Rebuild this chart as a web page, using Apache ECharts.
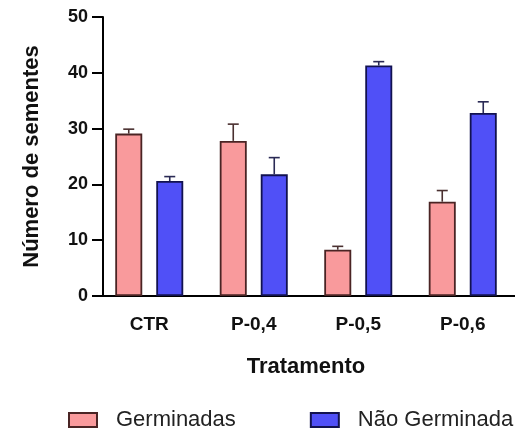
<!DOCTYPE html>
<html>
<head>
<meta charset="utf-8">
<script src="https://cdn.jsdelivr.net/npm/echarts@6/dist/echarts.min.js"></script>
<style>
	html, body { margin:0; padding:0; background:#fff; }
	#main { width:515px; height:432px; }
</style>
</head>
<body>
<div id="main"></div>
<script>
// dados
var categorias = ['CTR', 'P-0,4', 'P-0,5', 'P-0,6'];
var germinadas = [29.1, 27.8, 8.3, 16.9];
var germinadasErro = [0.8, 3.0, 0.6, 2.0];
var naoGerminadas = [20.6, 21.8, 41.3, 32.8];
var naoGerminadasErro = [0.8, 3.0, 0.7, 2.0];
var yTicks = [0, 10, 20, 30, 40, 50];

var barW = 27;
var barGapPx = 14;
var fonte = 'Liberation Sans, Arial, sans-serif';

//barra de erro (só a parte de cima)
function errorSeries(nome, valores, erros, lado, cor)
{
	var dados = [];
	for (var i = 0; i < valores.length; i++) {
		dados.push([i, valores[i], erros[i]]);
	}
	return {
		name: nome,
		type: 'custom',
		z: 3,
		silent: true,
		data: dados,
		renderItem: function (params, api) {
			var base = api.coord([api.value(0), api.value(1)]);
			var topo = api.coord([api.value(0), api.value(1) + api.value(2)]);
			var cx = base[0] + lado * (barW + barGapPx) / 2;
			var estilo = { stroke: cor, lineWidth: 1.6 };
			return {
				type: 'group',
				children: [
					{ type: 'line', shape: { x1: cx, y1: base[1], x2: cx, y2: topo[1] }, style: estilo },
					{ type: 'line', shape: { x1: cx - 5.5, y1: topo[1], x2: cx + 5.5, y2: topo[1] }, style: estilo }
				]
			};
		}
	};
}

var myChart = echarts.init(document.getElementById('main'));

var option = {
	backgroundColor: '#fff',
	animation: false,
	textStyle: { fontFamily: fonte },
	grid: {
		left: 97,
		top: 17,
		width: 431,
		height: 279
	},
	legend: {
		data: ['Germinadas', 'Não Germinada'],
		left: 68,
		top: 409,
		padding: 0,
		icon: 'rect',
		itemWidth: 28,
		itemHeight: 14,
		itemGap: 74,
		textStyle: {
			fontSize: 22,
			color: '#222',
			fontFamily: fonte,
			padding: [0, 0, 0, 14]
		}
	},
	xAxis: {
		type: 'category',
		data: categorias,
		name: 'Tratamento',
		nameLocation: 'middle',
		nameGap: 60,
		nameTextStyle: { fontSize: 22, fontWeight: 'bold', color: '#111' },
		axisLine: { lineStyle: { color: '#000', width: 2 } },
		axisTick: { alignWithLabel: true, length: 9, lineStyle: { width: 2, color: '#000' } },
		axisLabel: { fontSize: 19, fontWeight: 'bold', color: '#111', margin: 19 },
		splitLine: { show: false }
	},
	yAxis: {
		type: 'value',
		min: 0,
		max: 50,
		interval: 10,
		offset: -6,
		name: 'Número de sementes',
		nameLocation: 'middle',
		nameGap: 60,
		nameTextStyle: { fontSize: 22, fontWeight: 'bold', color: '#111' },
		axisLine: { show: true, lineStyle: { color: '#000', width: 2 } },
		axisTick: { show: true, length: 11, lineStyle: { width: 2, color: '#000' } },
		axisLabel: {
			fontSize: 18, fontWeight: 'bold', color: '#111', margin: 15,
			formatter: function (v) { return yTicks.indexOf(v) >= 0 ? String(v) : ''; }
		},
		splitLine: { show: false }
	},
	series: [
		{
			name: 'Germinadas',
			type: 'bar',
			barWidth: barW,
			barGap: (barGapPx / barW * 100) + '%',
			data: germinadas,
			itemStyle: { color: '#f99a9c', borderColor: '#4a2424', borderWidth: 1.8 }
		},
		{
			name: 'Não Germinada',
			type: 'bar',
			barWidth: barW,
			data: naoGerminadas,
			itemStyle: { color: '#5050f7', borderColor: '#121250', borderWidth: 1.8 }
		},
		errorSeries('erroG', germinadas, germinadasErro, -1, '#4a3030'),
		errorSeries('erroN', naoGerminadas, naoGerminadasErro, 1, '#2a2a55')
	]
};

myChart.setOption(option);
</script>
</body>
</html>
